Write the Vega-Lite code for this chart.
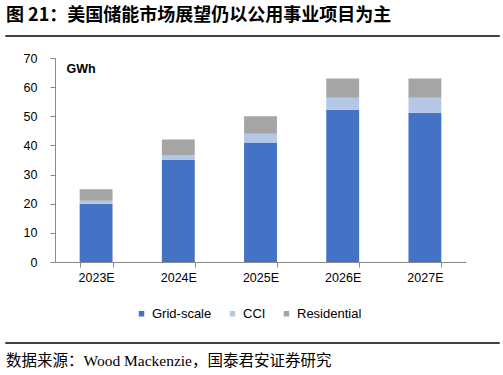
{
  "$schema": "https://vega.github.io/schema/vega-lite/v6.json",
  "padding": {"left": 5, "top": 6, "right": 5, "bottom": 5},
  "background": "#ffffff",
  "spacing": 10,
  "config": {
    "view": {"stroke": null},
    "font": "Liberation Sans",
    "concat": {"spacing": 0}
  },
  "vconcat": [
    {
      "width": 493,
      "height": 0.01,
      "view": {"stroke": "#000000", "strokeWidth": 1.5},
      "title": {
        "text": "图 21：美国储能市场展望仍以公用事业项目为主",
        "anchor": "start",
        "font": "Noto Sans CJK SC",
        "fontSize": 18,
        "fontWeight": "bold",
        "color": "#000000",
        "offset": 5
      },
      "data": {"values": [{"t": ""}]},
      "mark": "text",
      "encoding": {"text": {"field": "t"}}
    },
    {
      "spacing": 52,
      "vconcat": [
        {
          "spacing": 0,
          "hconcat": [
            {
              "width": 17,
              "height": 204,
              "data": {"values": [{"t": ""}]},
              "mark": "text",
              "encoding": {"text": {"field": "t"}}
            },
            {
              "width": 411,
              "height": 204,
              "data": {
                "values": [
                  {"year": "2023E", "type": "Grid-scale", "value": 20},
                  {"year": "2023E", "type": "CCI", "value": 1},
                  {"year": "2023E", "type": "Residential", "value": 4},
                  {"year": "2024E", "type": "Grid-scale", "value": 35},
                  {"year": "2024E", "type": "CCI", "value": 1.7},
                  {"year": "2024E", "type": "Residential", "value": 5.3},
                  {"year": "2025E", "type": "Grid-scale", "value": 41},
                  {"year": "2025E", "type": "CCI", "value": 3},
                  {"year": "2025E", "type": "Residential", "value": 6},
                  {"year": "2026E", "type": "Grid-scale", "value": 52.2},
                  {"year": "2026E", "type": "CCI", "value": 4.2},
                  {"year": "2026E", "type": "Residential", "value": 6.6},
                  {"year": "2027E", "type": "Grid-scale", "value": 51.2},
                  {"year": "2027E", "type": "CCI", "value": 5.2},
                  {"year": "2027E", "type": "Residential", "value": 6.6}
                ]
              },
              "transform": [
                {"calculate": "indexof(['Grid-scale', 'CCI', 'Residential'], datum.type)", "as": "k"}
              ],
              "mark": {"type": "bar"},
              "encoding": {
                "x": {
                  "field": "year",
                  "type": "nominal",
                  "title": null,
                  "scale": {"paddingInner": 0.6, "paddingOuter": 0.3},
                  "axis": {
                    "labelAngle": 0,
                    "tickBand": "extent",
                    "domainColor": "#898989",
                    "tickColor": "#898989",
                    "tickSize": 5,
                    "labelPadding": 4,
                    "labelFontSize": 12.5,
                    "labelColor": "#000000",
                    "labelFont": "Liberation Sans"
                  }
                },
                "y": {
                  "field": "value",
                  "type": "quantitative",
                  "stack": "zero",
                  "scale": {"domain": [0, 70]},
                  "axis": {
                    "values": [0, 10, 20, 30, 40, 50, 60, 70],
                    "grid": false,
                    "domainColor": "#898989",
                    "tickColor": "#898989",
                    "tickSize": 5,
                    "labelPadding": 13,
                    "labelFontSize": 12.5,
                    "labelColor": "#000000",
                    "labelFont": "Liberation Sans",
                    "title": "GWh",
                    "titleAngle": 0,
                    "titleX": 11,
                    "titleY": 10,
                    "titleAlign": "left",
                    "titleBaseline": "middle",
                    "titleFont": "Liberation Sans",
                    "titleFontSize": 12.5,
                    "titleFontWeight": "bold",
                    "titleColor": "#000000"
                  }
                },
                "order": {"field": "k", "type": "quantitative", "sort": "ascending"},
                "color": {
                  "field": "type",
                  "type": "nominal",
                  "sort": ["Grid-scale", "CCI", "Residential"],
                  "scale": {
                    "domain": ["Grid-scale", "CCI", "Residential"],
                    "range": ["#4472C4", "#B4C7E7", "#A5A5A5"]
                  },
                  "legend": {
                    "orient": "none",
                    "legendX": 129,
                    "legendY": 271,
                    "direction": "horizontal",
                    "title": null,
                    "symbolType": "square",
                    "symbolSize": 30,
                    "symbolStrokeWidth": 0,
                    "labelFontSize": 13,
                    "labelFont": "Liberation Sans",
                    "labelColor": "#000000",
                    "columnPadding": 14,
                    "labelOffset": 4
                  }
                }
              }
            }
          ]
        },
        {
          "width": 493,
          "height": 0.01,
          "view": {"stroke": "#000000", "strokeWidth": 1.5},
          "title": {
            "text": "数据来源：Wood Mackenzie，国泰君安证券研究",
            "orient": "bottom",
            "anchor": "start",
            "font": "Liberation Serif, Noto Sans CJK SC",
            "fontSize": 15.5,
            "fontWeight": "normal",
            "color": "#000000",
            "offset": 6
          },
          "data": {"values": [{"t": ""}]},
          "mark": "text",
          "encoding": {"text": {"field": "t"}}
        }
      ]
    }
  ]
}
